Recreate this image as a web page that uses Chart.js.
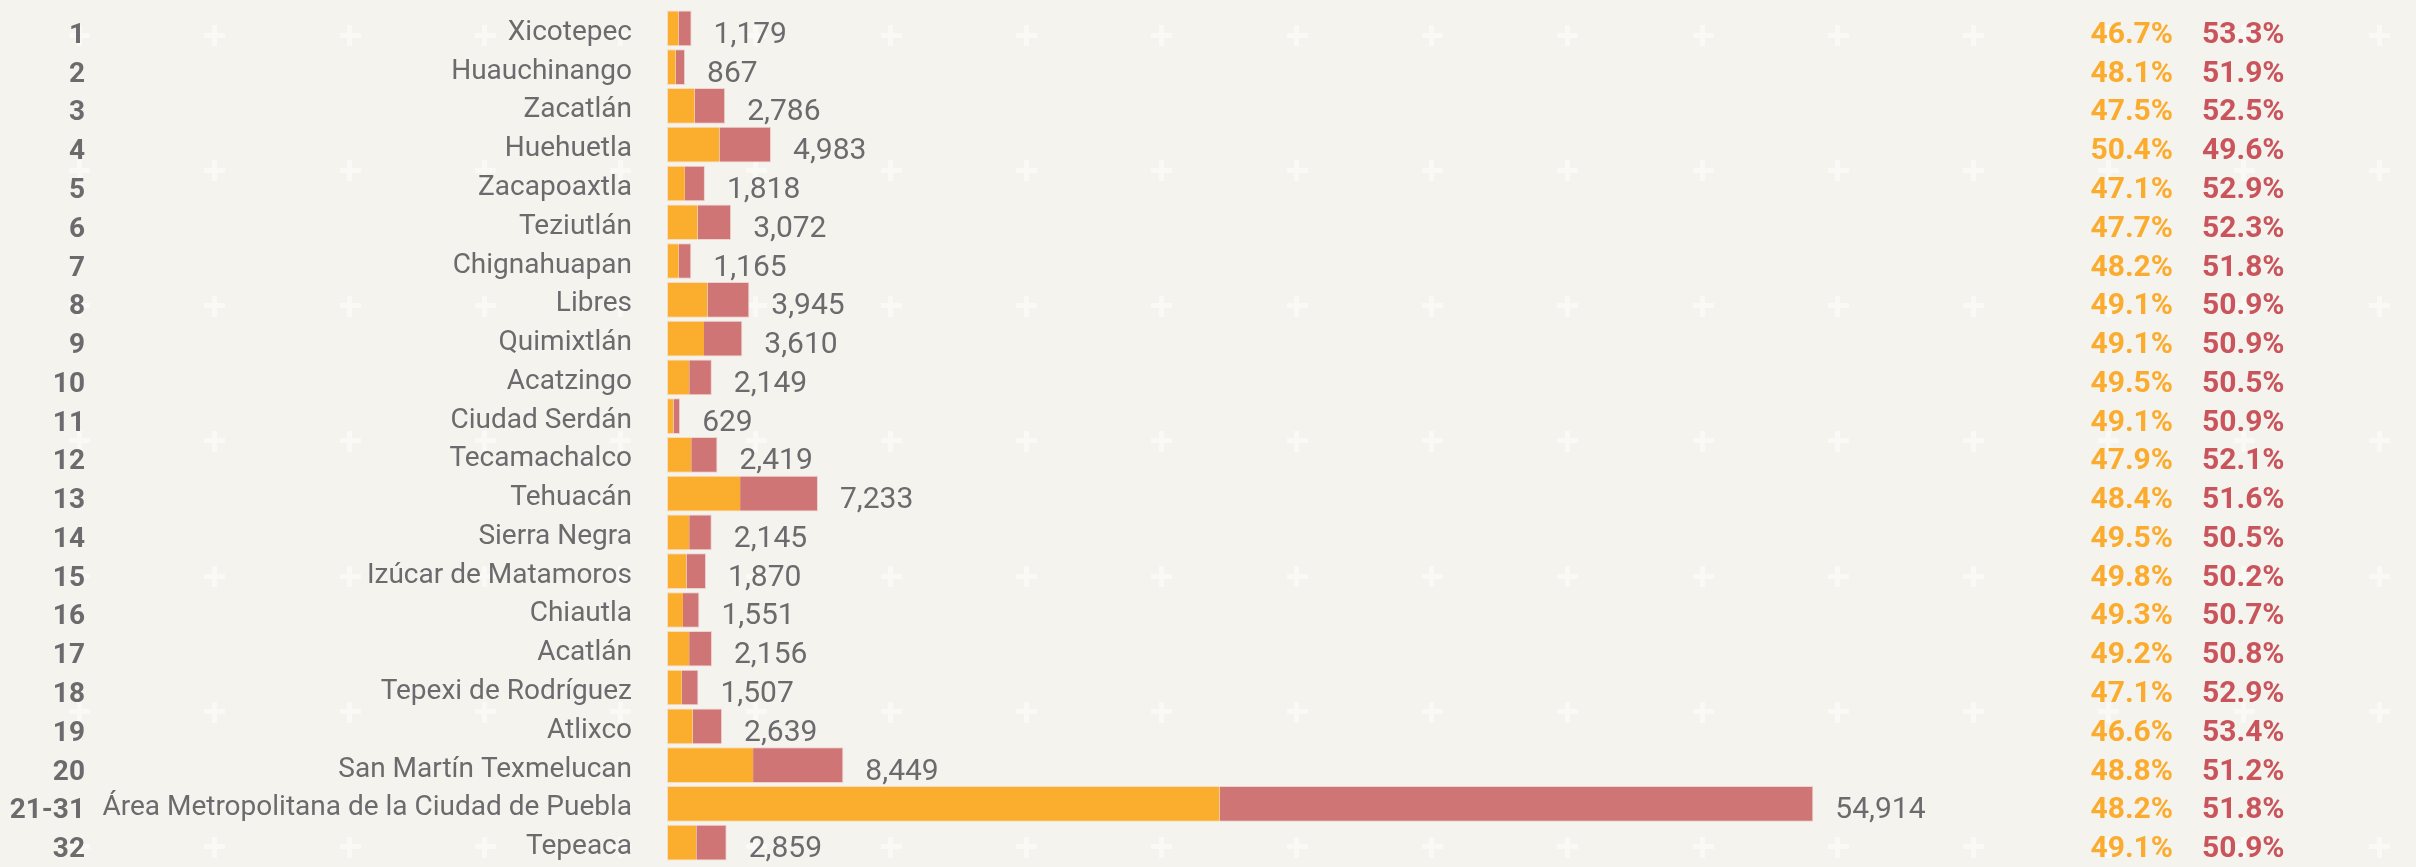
<!DOCTYPE html>
<html>
<head>
<meta charset="utf-8">
<script src="https://cdn.jsdelivr.net/npm/chart.js@4.4.1/dist/chart.umd.min.js"></script>
<style>
  html, body { margin: 0; padding: 0; overflow: hidden; background: #f4f3ee; }
  canvas { display: block; }
</style>
</head>
<body>
<canvas id="chart" width="2416" height="869"></canvas>
<script>
const ranks = ['1', '2', '3', '4', '5', '6', '7', '8', '9', '10', '11', '12', '13', '14', '15', '16', '17', '18', '19', '20', '21-31', '32'];
const municipios = ['Xicotepec', 'Huauchinango', 'Zacatlán', 'Huehuetla', 'Zacapoaxtla', 'Teziutlán', 'Chignahuapan', 'Libres', 'Quimixtlán', 'Acatzingo', 'Ciudad Serdán', 'Tecamachalco', 'Tehuacán', 'Sierra Negra', 'Izúcar de Matamoros', 'Chiautla', 'Acatlán', 'Tepexi de Rodríguez', 'Atlixco', 'San Martín Texmelucan', 'Área Metropolitana de la Ciudad de Puebla', 'Tepeaca'];
const totals = [1179, 867, 2786, 4983, 1818, 3072, 1165, 3945, 3610, 2149, 629, 2419, 7233, 2145, 1870, 1551, 2156, 1507, 2639, 8449, 54914, 2859];
const pctOrange = [46.7, 48.1, 47.5, 50.4, 47.1, 47.7, 48.2, 49.1, 49.1, 49.5, 49.1, 47.9, 48.4, 49.5, 49.8, 49.3, 49.2, 47.1, 46.6, 48.8, 48.2, 49.1];
const pctRed = [53.3, 51.9, 52.5, 49.6, 52.9, 52.3, 51.8, 50.9, 50.9, 50.5, 50.9, 52.1, 51.6, 50.5, 50.2, 50.7, 50.8, 52.9, 53.4, 51.2, 51.8, 50.9];

// split each total by its two shares
const orangeVals = totals.map((t, i) => t * pctOrange[i] / 100);
const redVals = totals.map((t, i) => t * pctRed[i] / 100);

const GRAY = '#6b6b6e';

// beige background with faint white crosses
const backdrop = {
  id: 'backdrop',
  beforeDraw(chart) {
    const ctx = chart.ctx;
    ctx.save();
    ctx.fillStyle = '#f4f3ee';
    ctx.fillRect(0, 0, chart.width, chart.height);
    ctx.fillStyle = '#f9f9f6';
    for (let x = 79; x < chart.width; x += 135.3) {
      for (let y = 35; y < chart.height + 12; y += 135.3) {
        ctx.fillRect(Math.round(x - 10), Math.round(y - 2.5), 21, 5);
        ctx.fillRect(Math.round(x - 2.5), Math.round(y - 10), 5, 21);
      }
    }
    ctx.restore();
  }
};

// rank numbers, totals after bars, and the two percentage columns
const sideText = {
  id: 'sideText',
  afterDatasetsDraw(chart) {
    const ctx = chart.ctx;
    const ys = chart.scales.y, xs = chart.scales.x;
    ctx.save();
    ctx.textBaseline = 'alphabetic';
    municipios.forEach((m, i) => {
      const base = ys.getPixelForValue(i) + 14.5;

      ctx.font = 'bold 28px Roboto';
      ctx.fillStyle = GRAY;
      ctx.textAlign = 'right';
      ctx.fillText(ranks[i], 85, base);

      ctx.font = '30px Roboto';
      ctx.textAlign = 'left';
      ctx.fillText(totals[i].toLocaleString('en-US'), xs.getPixelForValue(totals[i]) + 22, base);

      ctx.font = 'bold 30px Roboto';
      ctx.fillStyle = '#fbac2e';
      ctx.textAlign = 'right';
      ctx.fillText(pctOrange[i].toFixed(1) + '%', 2173, base);
      ctx.fillStyle = '#c9545b';
      ctx.textAlign = 'left';
      ctx.fillText(pctRed[i].toFixed(1) + '%', 2202, base);
    });
    ctx.restore();
  }
};

new Chart(document.getElementById('chart'), {
  type: 'bar',
  data: {
    labels: municipios,
    datasets: [
      {
        label: 'orange',
        data: orangeVals,
        backgroundColor: '#fbae2d',
        borderColor: '#f6dcc0',
        borderWidth: { top: 1, bottom: 1, left: 1, right: 0 },
        borderSkipped: false,
        barPercentage: 0.92,
        categoryPercentage: 1.0
      },
      {
        label: 'red',
        data: redVals,
        backgroundColor: '#d07576',
        borderColor: '#efd3cf',
        borderWidth: { top: 1, bottom: 1, left: 0, right: 1 },
        borderSkipped: false,
        barPercentage: 0.92,
        categoryPercentage: 1.0
      }
    ]
  },
  options: {
    indexAxis: 'y',
    responsive: false,
    animation: false,
    layout: { padding: { top: 9, right: 79, bottom: 0, left: 0 } },
    plugins: {
      legend: { display: false },
      tooltip: { enabled: false }
    },
    scales: {
      x: {
        stacked: true,
        display: false,
        min: 0,
        max: 80000
      },
      y: {
        stacked: true,
        // invisible tick marks give the gap between names and bars
        grid: { display: false, drawTicks: true, tickLength: 35, color: 'transparent' },
        border: { display: false },
        ticks: {
          autoSkip: false,
          padding: 0,
          labelOffset: 4.5,
          color: GRAY,
          font: { family: 'Roboto', size: 28, lineHeight: 0.5 }
        },
        afterFit(scale) { scale.width = 667; }
      }
    }
  },
  plugins: [backdrop, sideText]
});
</script>
</body>
</html>
